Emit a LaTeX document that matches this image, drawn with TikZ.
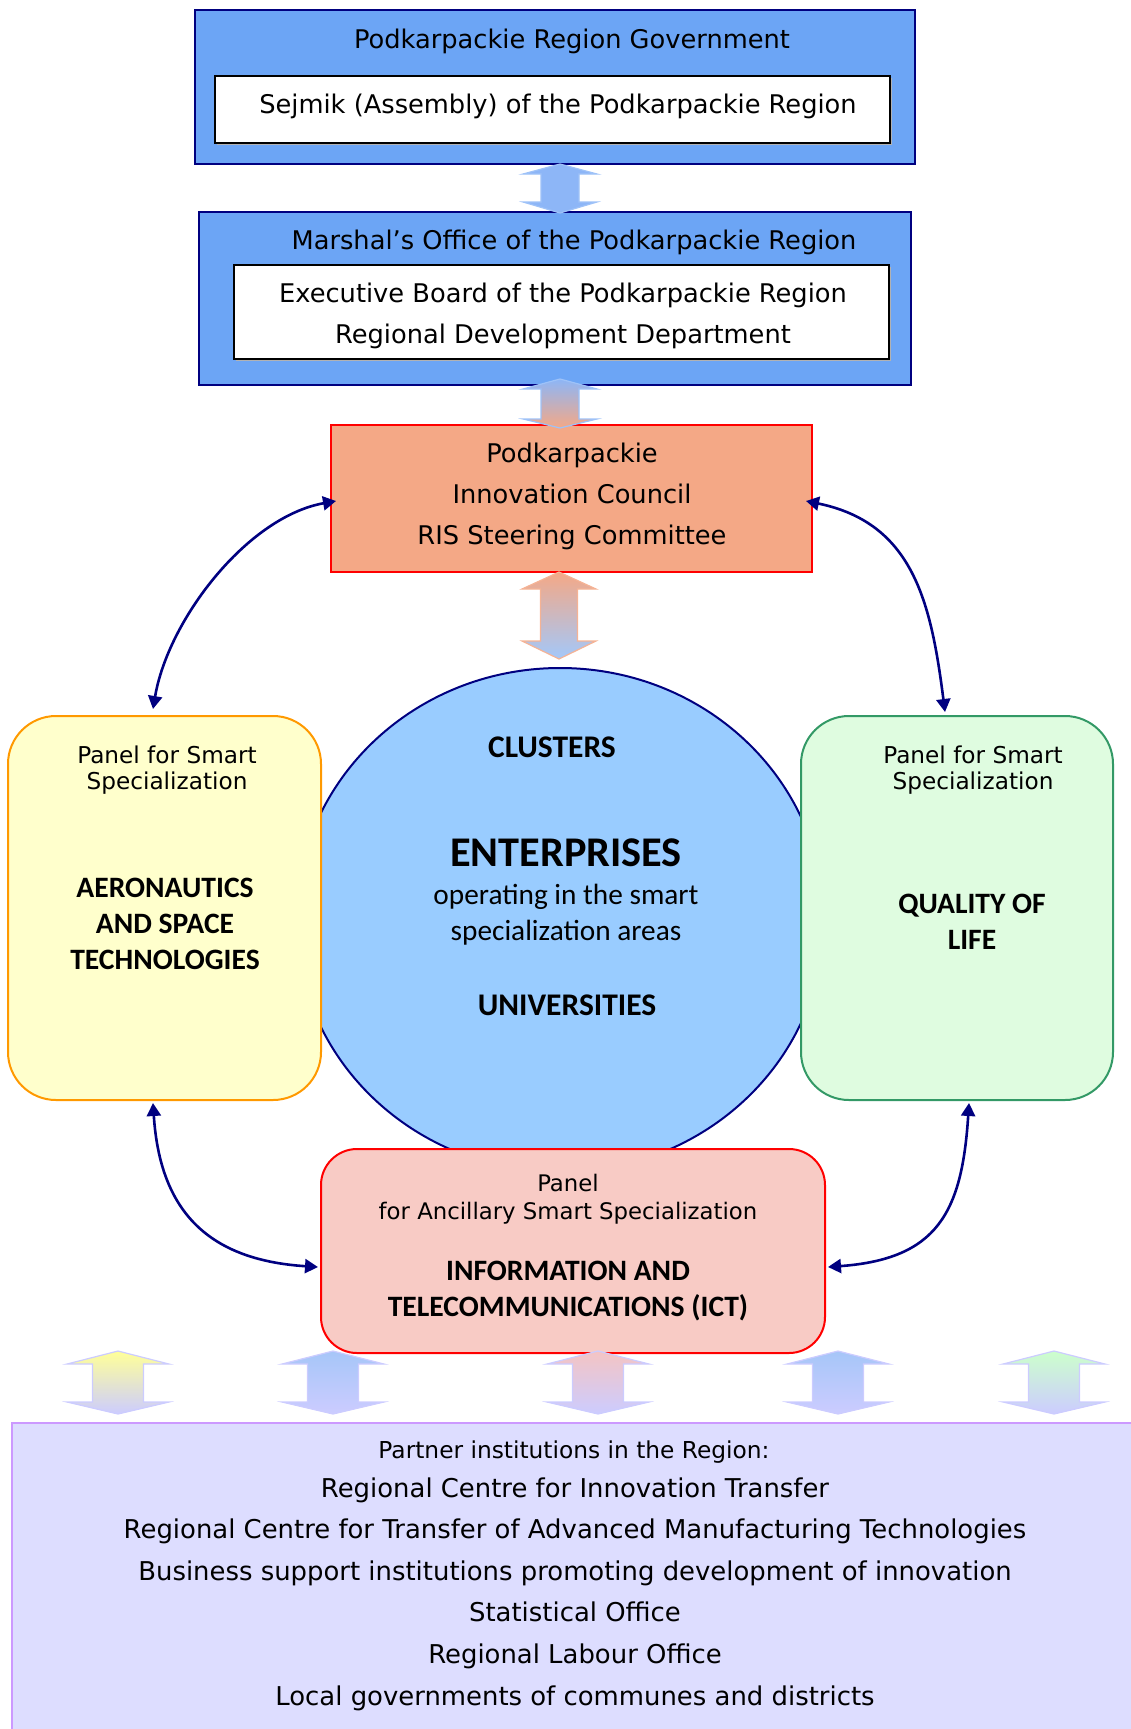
\documentclass[tikz,border=0pt]{standalone}
\usepackage{fontspec}
\setmainfont{DejaVu Sans}
\newfontfamily\calib{Carlito}
\usetikzlibrary{shapes.geometric,arrows.meta}
\definecolor{boxblue}{HTML}{6CA5F5}
\definecolor{navyc}{HTML}{000080}
\definecolor{circfill}{HTML}{99CCFF}
\definecolor{salmon}{HTML}{F4A886}
\definecolor{yelfill}{HTML}{FFFFCC}
\definecolor{yelline}{HTML}{FF9900}
\definecolor{grnfill}{HTML}{DFFCE0}
\definecolor{grnline}{HTML}{339966}
\definecolor{ictfill}{HTML}{F8CBC5}
\definecolor{botfill}{HTML}{DDDDFF}
\definecolor{botline}{HTML}{CC99FF}
\definecolor{lav}{HTML}{CCCCFF}
\definecolor{arrblue}{HTML}{8DB6F7}
\definecolor{arrblueline}{HTML}{9EC2F8}
\definecolor{arrsalline}{HTML}{F5B395}
\definecolor{arrlightblue}{HTML}{A3C8FA}
\definecolor{ayel}{HTML}{FFFF99}
\definecolor{ablu}{HTML}{A6C6F8}
\definecolor{apink}{HTML}{F4C4C4}
\definecolor{agrn}{HTML}{CCFFCC}
\newcommand\fTitle{\fontsize{25.7}{41}\selectfont}
\newcommand\fList{\fontsize{25.9}{41.6}\selectfont}
\newcommand\fPanel{\fontsize{23.2}{26}\selectfont}
\newcommand\fPanelB{\fontsize{22.8}{28}\selectfont}
\newcommand\fPartner{\fontsize{23.3}{30}\selectfont}
\newcommand\fBold{\calib\bfseries\fontsize{29.6}{36}\selectfont}
\newcommand\fCirB{\calib\bfseries\fontsize{31.5}{36}\selectfont}
\newcommand\fEnt{\calib\bfseries\fontsize{42.3}{48}\selectfont}
\newcommand\fOper{\calib\fontsize{29.3}{36}\selectfont}
\newcommand\dbarrow[8]{%
  \path[#8] (#1,#2) -- ({#1+#6},#3) -- ({#1+#7},#3) -- ({#1+#7},#4) -- ({#1+#6},#4)
    -- (#1,#5) -- ({#1-#6},#4) -- ({#1-#7},#4) -- ({#1-#7},#3) -- ({#1-#6},#3) -- cycle;}
\begin{document}
\begin{tikzpicture}[x=1pt,y=-1pt,
  txt/.style={inner sep=0pt, align=center},
  bluebox/.style={draw=navyc, line width=2pt, fill=boxblue, inner sep=0pt},
  whitebox/.style={draw=black, line width=2pt, fill=white, inner sep=0pt, align=center, font=\fTitle},
  panelbox/.style={line width=2pt, inner sep=0pt},
  link/.style={draw=navyc, line width=2.6pt, {Triangle[length=13pt,width=14pt]}-{Triangle[length=13pt,width=14pt]}},
  bigarr/.style={line width=1.2pt},
  smallarr/.style={draw=lav, line width=1.2pt, bottom color=lav}
]
\useasboundingbox (0,0) rectangle (1131,1729);

% ---- top government box
\node[bluebox, minimum width=720pt, minimum height=154pt] (gov) at (555,87) {};
\node[txt, font=\fTitle] (govt) at (572,41) {Podkarpackie Region Government};
\fill[gray!60] (217,78) rectangle (892,145);
\node[whitebox, minimum width=675pt, minimum height=67pt] (sejmik) at (552.5,109.5) {};
\node[txt, font=\fTitle] (sejmikt) at (558,106) {Sejmik (Assembly) of the Podkarpackie Region};

% ---- marshal office box
\node[bluebox, minimum width=712pt, minimum height=173pt] (marshal) at (555,298.5) {};
\node[txt, font=\fTitle] (marshalt) at (574,242) {Marshal’s Office of the Podkarpackie Region};
\fill[gray!60] (236,267) rectangle (891,361);
\node[whitebox, minimum width=655pt, minimum height=94pt] (exec) at (561.5,312) {};
\node[txt, font=\fTitle] (exect) at (563,315.5) {Executive Board of the Podkarpackie Region\\Regional Development Department};

% ---- innovation council
\node[draw=red, line width=2pt, fill=salmon, minimum width=481pt, minimum height=147pt, inner sep=0pt] (council) at (571.5,498.5) {};
\node[txt, font=\fTitle] (councilt) at (572,496.5) {Podkarpackie\\Innovation Council\\RIS Steering Committee};

% ---- central ellipse
\node[ellipse, draw=navyc, line width=2pt, fill=circfill, minimum width=528pt, minimum height=504pt, inner sep=0pt] (core) at (560,920) {};
\node[txt, font=\fCirB] (clusters) at (552,747) {CLUSTERS};
\node[txt, font=\fEnt] (ent) at (566,853) {ENTERPRISES};
\node[txt, font=\fOper] (oper) at (566,915) {operating in the smart\\specialization areas};
\node[txt, font=\fCirB] (univ) at (567,1005) {UNIVERSITIES};

% ---- side panels
\node[panelbox, draw=yelline, fill=yelfill, rounded corners=48pt, minimum width=313pt, minimum height=384pt] (aero) at (164.5,908) {};
\node[txt, font=\fPanel] (aerop) at (167,770) {Panel for Smart\\Specialization};
\node[txt, font=\fBold] (aerot) at (165,924) {AERONAUTICS\\AND SPACE\\TECHNOLOGIES};

\node[panelbox, draw=grnline, fill=grnfill, rounded corners=48pt, minimum width=312pt, minimum height=384pt] (life) at (957,908) {};
\node[txt, font=\fPanel] (lifep) at (973,770) {Panel for Smart\\Specialization};
\node[txt, font=\fBold] (lifet) at (972,922) {QUALITY OF\\LIFE};

% ---- ICT panel
\node[panelbox, draw=red, fill=ictfill, rounded corners=36pt, minimum width=504pt, minimum height=204pt] (ict) at (573,1251) {};
\node[txt, font=\fPanelB] (ictp) at (568,1199) {Panel\\for Ancillary Smart Specialization};
\node[txt, font=\fBold] (ictt) at (568,1291) {INFORMATION AND\\TELECOMMUNICATIONS (ICT)};

% ---- partner institutions
\node[draw=botline, line width=2pt, fill=botfill, minimum width=1140pt, minimum height=330pt, inner sep=0pt, anchor=north west] (partners) at (11,1422) {};
\node[txt, font=\fPartner] (partnerh) at (574,1452) {Partner institutions in the Region:};
\node[txt, font=\fList] (partnerl) at (575,1594) {Regional Centre for Innovation Transfer\\
Regional Centre for Transfer of Advanced Manufacturing Technologies\\
Business support institutions promoting development of innovation\\
Statistical Office\\
Regional Labour Office\\
Local governments of communes and districts};

% ---- block arrows
\dbarrow{560}{164}{174}{202}{213}{37}{19}{bigarr, draw=arrblueline, fill=arrblue}
\dbarrow{560}{379}{389}{419}{428}{37}{19}{bigarr, draw=arrblueline, top color=arrblue, bottom color=salmon}
\dbarrow{559}{572}{589}{641}{659}{37}{18.5}{bigarr, draw=arrsalline, top color=salmon, bottom color=arrlightblue}

\dbarrow{118}{1351}{1364}{1402}{1414}{51}{25.5}{smallarr, top color=ayel}
\dbarrow{333}{1351}{1364}{1402}{1414}{51}{25.5}{smallarr, top color=ablu}
\dbarrow{598}{1351}{1364}{1402}{1414}{51}{25.5}{smallarr, top color=apink}
\dbarrow{838}{1351}{1364}{1402}{1414}{51}{25.5}{smallarr, top color=ablu}
\dbarrow{1054}{1351}{1364}{1402}{1414}{51}{25.5}{smallarr, top color=agrn}

% ---- curved connectors
\coordinate (aeroT) at ([xshift=-11.5pt,yshift=6pt]aero.north);
\coordinate (aeroB) at ([xshift=-11.5pt,yshift=-2pt]aero.south);
\coordinate (lifeT) at ([xshift=-12pt,yshift=3pt]life.north);
\coordinate (lifeB) at ([xshift=12pt,yshift=-2pt]life.south);
\coordinate (councilL) at ([xshift=6pt,yshift=-2.5pt]council.west);
\coordinate (councilR) at ([xshift=-7pt,yshift=-2.5pt]council.east);
\coordinate (ictL) at ([xshift=-2pt,yshift=-16pt]ict.west);
\coordinate (ictR) at ([xshift=2pt,yshift=-16pt]ict.east);

\draw[link] (aeroT) .. controls +(15,-89) and +(-89,16) .. (councilL);
\draw[link] (lifeT) .. controls +(-14,-110) and +(107,22) .. (councilR);
\draw[link] (aeroB) .. controls +(7,109) and +(-109,-7) .. (ictL);
\draw[link] (lifeB) .. controls +(-7,110) and +(109,-8) .. (ictR);
\end{tikzpicture}
\end{document}
